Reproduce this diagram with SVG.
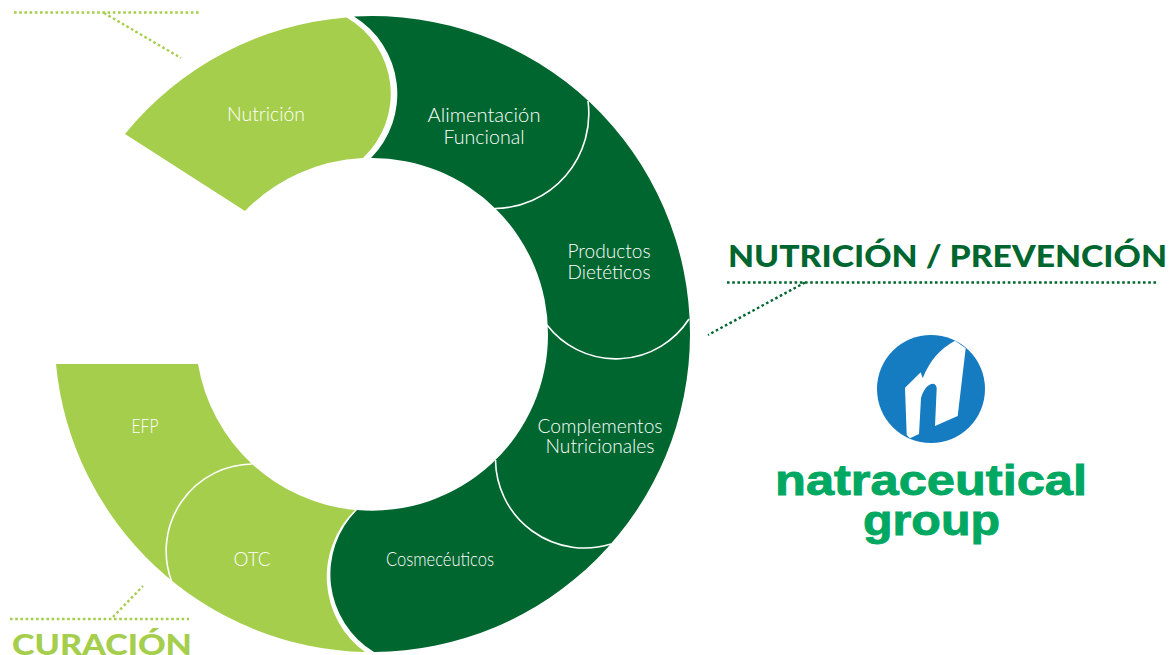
<svg xmlns="http://www.w3.org/2000/svg" width="1169" height="655" viewBox="0 0 1169 655">
<style>
.dark{fill:#00662f}
.light{fill:#a5ce4c}
.div{fill:none;stroke:#fff;stroke-width:1.6}
.lbl{font-family:Lato,"Liberation Sans",sans-serif;font-weight:300;font-size:20px;fill:#fff;text-anchor:middle}
.head{font-family:Lato,"Liberation Sans",sans-serif;font-weight:900}
.logo{font-family:"Liberation Sans",Arial,sans-serif;font-weight:700;fill:#00a862;stroke:#00a862;stroke-width:0.900px}
.dot{fill:none;stroke-width:2.4;stroke-dasharray:2.6 2.6}
</style>
<rect width="1169" height="655" fill="#fff"/>
<g id="ring-dark">
<path class="dark" d="M354 16.500A318 318 0 0 1 690 334A318 318 0 0 1 374 652A91 91 0 0 1 357 510A176 176 0 0 0 548 334A176 176 0 0 0 371 158A91 91 0 0 0 354 16.500Z"/>
</g>
<g id="node-nutricion">
<path class="light" d="M125 134A318 318 0 0 1 346.500 17.500A88 88 0 0 1 363 158A176 176 0 0 0 245 211Z"/>
<text class="lbl" x="266" y="121" textLength="78" lengthAdjust="spacingAndGlyphs">Nutrición</text>
</g>
<g id="node-alimentacion">
<text class="lbl" x="484" y="122" textLength="113" lengthAdjust="spacingAndGlyphs">Alimentación</text>
<text class="lbl" x="484" y="144" textLength="81" lengthAdjust="spacingAndGlyphs">Funcional</text>
</g>
<g id="node-productos">
<text class="lbl" x="609" y="258" textLength="83" lengthAdjust="spacingAndGlyphs">Productos</text>
<text class="lbl" x="609" y="279" textLength="83" lengthAdjust="spacingAndGlyphs">Dietéticos</text>
</g>
<g id="node-complementos">
<text class="lbl" x="600" y="433" textLength="125" lengthAdjust="spacingAndGlyphs">Complementos</text>
<text class="lbl" x="600" y="453" textLength="109" lengthAdjust="spacingAndGlyphs">Nutricionales</text>
</g>
<g id="node-cosmeceuticos">
<text class="lbl" x="440" y="566" textLength="108" lengthAdjust="spacingAndGlyphs">Cosmecéuticos</text>
</g>
<g id="node-efp">
<path class="light" d="M56 364H198A176 176 0 0 0 355 510A93 93 0 0 0 365 652A318 318 0 0 1 56 364Z"/>
<text class="lbl" x="145" y="433" textLength="27" lengthAdjust="spacingAndGlyphs">EFP</text>
</g>
<g id="node-otc">
<text class="lbl" x="252" y="566" textLength="37" lengthAdjust="spacingAndGlyphs">OTC</text>
</g>
<g id="connectors">
<path class="div" d="M588 101A95 95 0 0 1 495 208.500"/>
<path class="div" d="M689 319A87 87 0 0 1 547 325"/>
<path class="div" d="M495.500 460A89 89 0 0 0 611 544"/>
<path class="div" d="M252 464A87 87 0 0 0 171.500 581"/>
<path class="dot" stroke="#00662f" d="M727 282.500H1158M805 282.500L708 335"/>
<path class="dot" stroke="#a5ce4c" d="M14 12.500H201M104 13L181 58"/>
<path class="dot" stroke="#a5ce4c" d="M10 619H189M113 617L143 586"/>
</g>
<g id="label-nutricion-prevencion">
<text class="head dark" x="728" y="267" font-size="31" textLength="439" lengthAdjust="spacingAndGlyphs">NUTRICIÓN / PREVENCIÓN</text>
</g>
<g id="label-curacion">
<text class="head light" x="12" y="655" font-size="29" textLength="180" lengthAdjust="spacingAndGlyphs">CURACIÓN</text>
</g>
<g id="logo">
<circle cx="931" cy="389" r="54" fill="#167cc1"/>
<path fill="#fff" d="M906.700 435L905 387.700L920.700 372.300L922.700 378.300C930 360 940 349 955 340.700L965.700 348.300L957.700 416L935 426L936.700 388.300C936 380 925 383 921 398.300L919 434L910 438.300Z"/>
<text class="logo" x="775" y="495" font-size="42" textLength="312" lengthAdjust="spacingAndGlyphs">natraceutical</text>
<text class="logo" x="863" y="535" font-size="42" textLength="137" lengthAdjust="spacingAndGlyphs">group</text>
</g>
</svg>
